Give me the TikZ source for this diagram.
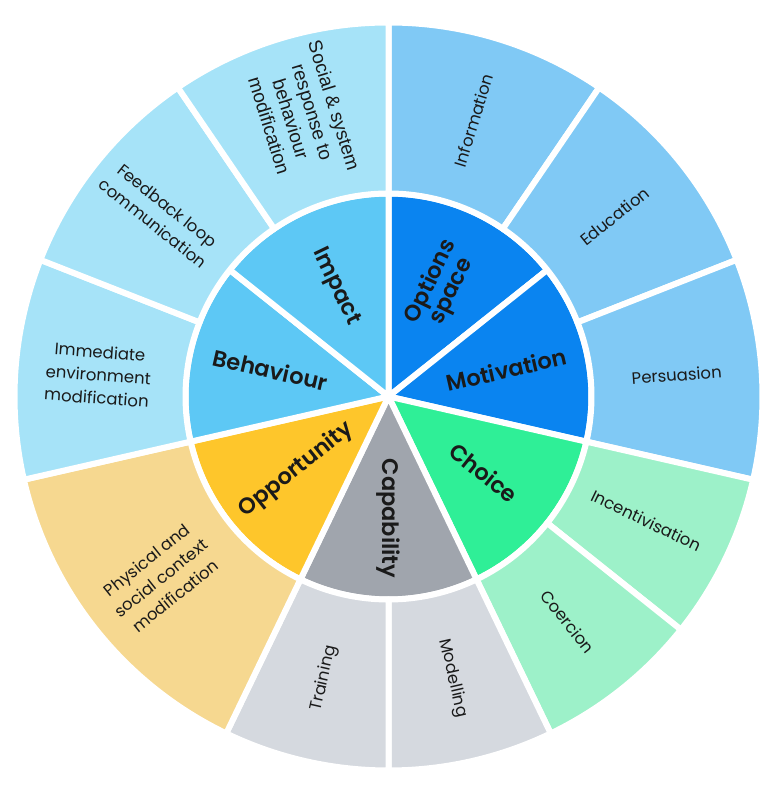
\documentclass[tikz,border=0pt]{standalone}
\usepackage{fontspec}
\IfFontExistsTF{Poppins SemiBold}{%
  \newfontfamily\boldf{Poppins SemiBold}}{%
  \IfFontExistsTF{Poppins Medium}{\newfontfamily\boldf{Poppins Medium}}{\newfontfamily\boldf{Poppins}}}
\setmainfont{Poppins}
\newfontfamily\regf{Poppins}
\newfontfamily\arialf{Liberation Sans}
\definecolor{cDark}{HTML}{0A84F0}
\definecolor{cGreen}{HTML}{2FEF97}
\definecolor{cGray}{HTML}{A0A5AD}
\definecolor{cYel}{HTML}{FEC62B}
\definecolor{cLB}{HTML}{5DC8F5}
\definecolor{oBlue}{HTML}{80C9F5}
\definecolor{oLB}{HTML}{A6E3F8}
\definecolor{oGreen}{HTML}{9DF1C9}
\definecolor{oGray}{HTML}{D5D9DF}
\definecolor{oYel}{HTML}{F6D890}
\definecolor{txt}{HTML}{1A1A1A}
\tikzset{
  secstyle/.style={draw=white, line width=6pt, line join=round},
  inlab/.style={text=txt, align=center, inner sep=0pt, font=\boldf\fontsize{22.5}{23}\selectfont},
  outlab/.style={text=txt, align=center, inner sep=0pt, font=\regf\fontsize{16.5}{23}\selectfont},
  arlab/.style={text=txt, align=center, inner sep=0pt, font=\arialf\fontsize{19}{22.7}\selectfont},
}
\newcommand\insec[3]{\path[secstyle, fill=#1] (0,0) -- (#2:203) arc[start angle=#2, end angle=#3, radius=203] -- cycle;}
\newcommand\outsec[3]{\path[secstyle, fill=#1] (#2:203) arc[start angle=#2, end angle=#3, radius=203] -- (#3:374) arc[start angle=#3, end angle=#2, radius=374] -- cycle;}
\begin{document}
\begin{tikzpicture}[x=1pt, y=1pt]
\useasboundingbox (0,0) rectangle (782,793);
\begin{scope}[shift={(388.5,396.5)}]
% inner ring
\insec{cDark}{90}{38.5714}
\insec{cDark}{38.5714}{-12.8571}
\insec{cGreen}{-12.8571}{-64.2857}
\insec{cGray}{-64.2857}{-115.7143}
\insec{cYel}{-115.7143}{-167.1429}
\insec{cLB}{-167.1429}{-218.5714}
\insec{cLB}{141.4286}{90}
% outer ring
\outsec{oBlue}{90}{55.7143}
\outsec{oBlue}{55.7143}{21.4286}
\outsec{oBlue}{21.4286}{-12.8571}
\outsec{oGreen}{-12.8571}{-38.5714}
\outsec{oGreen}{-38.5714}{-64.2857}
\outsec{oGray}{-64.2857}{-90}
\outsec{oGray}{-90}{-115.7143}
\outsec{oYel}{-115.7143}{-167.1429}
\outsec{oLB}{-167.1429}{-201.4286}
\outsec{oLB}{158.5714}{124.2857}
\outsec{oLB}{124.2857}{90}
% inner labels
\node[inlab, rotate=64.2857] (options) at (64.2857:122) {Options\\space};
\node[inlab, rotate=12.8571] (motivation) at (12.8571:121) {Motivation};
\node[inlab, rotate=-38.5714] (choice) at (-38.5714:122) {Choice};
\node[inlab, rotate=-90] (capability) at (-90:122) {Capability};
\node[inlab, rotate=38.5714] (opportunity) at (-141.4286:118) {Opportunity};
\node[inlab, rotate=-12.8571] (behaviour) at (167.1429:121) {Behaviour};
\node[inlab, rotate=-64.2857] (impact) at (115.7143:122) {Impact};
% outer labels
\node[outlab, rotate=72.8571] (information) at (72.8571:289) {Information};
\node[outlab, rotate=38.5714] (education) at (38.5714:289) {Education};
\node[outlab, rotate=4.2857] (persuasion) at (4.2857:289) {Persuasion};
\node[outlab, rotate=-25.7143] (incentivisation) at (-25.7143:286) {Incentivisation};
\node[outlab, rotate=-51.4286] (coercion) at (-51.4286:288) {Coercion};
\node[outlab, rotate=-77.1429] (modelling) at (-77.1429:289) {Modelling};
\node[outlab, rotate=77.1429] (training) at (-102.8571:289) {Training};
\node[outlab, rotate=38.5714] (physical) at (-141.4286:291) {Physical and\\social context\\modification};
\node[outlab, rotate=-4.2857] (immediate) at (175.7143:291) {Immediate\\environment\\modification};
\node[outlab, rotate=-38.5714] (feedback) at (141.4286:292) {Feedback loop\\communication};
\node[arlab, rotate=-72.8571] (social) at (107.1429:294) {Social \& system\\response to\\behaviour\\modification};
\end{scope}
\end{tikzpicture}
\end{document}
